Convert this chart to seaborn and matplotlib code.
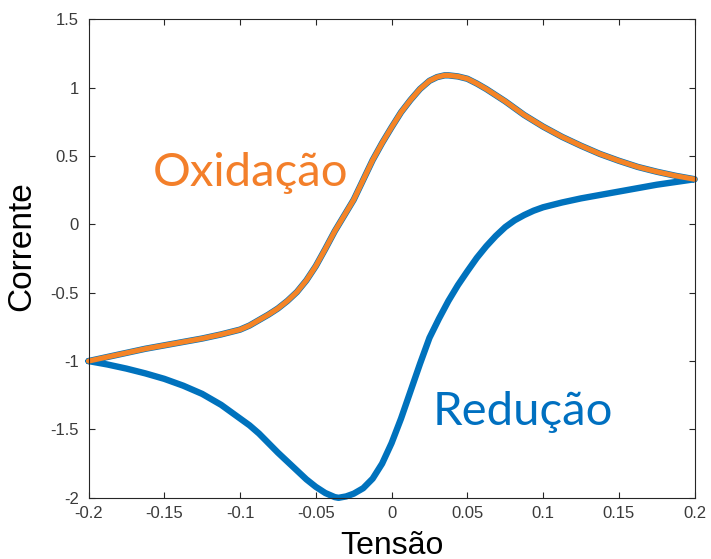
import matplotlib
matplotlib.use("Agg")
import matplotlib.pyplot as plt
import seaborn as sns
import pandas as pd

# ---- data ----
ox_x = [-0.2, -0.1875, -0.175, -0.1625, -0.15, -0.1375, -0.125, -0.1125, -0.1,
        -0.09375, -0.0875, -0.08125, -0.075, -0.06875, -0.0625, -0.05625, -0.05,
        -0.04375, -0.0375, -0.03125, -0.025, -0.01875, -0.0125, -0.00625, 0.0,
        0.00625, 0.0125, 0.01875, 0.025, 0.03, 0.035, 0.0375, 0.04375, 0.05,
        0.05625, 0.0625, 0.06875, 0.075, 0.08125, 0.0875, 0.1, 0.1125, 0.125,
        0.1375, 0.15, 0.1625, 0.175, 0.1875, 0.2]
ox_y = [-1.00, -0.97, -0.94, -0.91, -0.885, -0.86, -0.835, -0.805, -0.77,
        -0.74, -0.70, -0.66, -0.615, -0.56, -0.495, -0.41, -0.305,
        -0.18, -0.05, 0.065, 0.18, 0.325, 0.47, 0.595, 0.71,
        0.82, 0.91, 0.99, 1.05, 1.077, 1.09, 1.09, 1.082, 1.065,
        1.03, 0.99, 0.945, 0.90, 0.85, 0.80, 0.715, 0.64, 0.575,
        0.515, 0.465, 0.42, 0.385, 0.355, 0.33]

red_x = [0.2, 0.1875, 0.175, 0.1625, 0.15, 0.1375, 0.125, 0.1125, 0.1,
         0.09375, 0.0875, 0.08125, 0.075, 0.06875, 0.0625, 0.05625, 0.05,
         0.04375, 0.0375, 0.03125, 0.025, 0.01875, 0.0125, 0.00625, 0.0,
         -0.00625, -0.0125, -0.01875, -0.025, -0.03, -0.035, -0.0375, -0.04375,
         -0.05, -0.05625, -0.0625, -0.06875, -0.075, -0.08125, -0.0875, -0.09375,
         -0.1, -0.1125, -0.125, -0.1375, -0.15, -0.1625, -0.175, -0.1875, -0.2]
red_y = [0.33, 0.31, 0.29, 0.265, 0.24, 0.215, 0.19, 0.16, 0.125,
         0.10, 0.068, 0.03, -0.02, -0.085, -0.16, -0.245, -0.343,
         -0.445, -0.56, -0.69, -0.83, -1.02, -1.22, -1.42, -1.60,
         -1.75, -1.86, -1.93, -1.97, -1.99, -2.00, -1.995, -1.965,
         -1.92, -1.865, -1.80, -1.735, -1.67, -1.60, -1.53, -1.47,
         -1.42, -1.32, -1.24, -1.18, -1.13, -1.09, -1.055, -1.025, -1.00]

x_ticks = [-0.2, -0.15, -0.1, -0.05, 0, 0.05, 0.1, 0.15, 0.2]
x_tick_labels = ["-0.2", "-0.15", "-0.1", "-0.05", "0", "0.05", "0.1", "0.15", "0.2"]
y_ticks = [-2, -1.5, -1, -0.5, 0, 0.5, 1, 1.5]
y_tick_labels = ["-2", "-1.5", "-1", "-0.5", "0", "0.5", "1", "1.5"]

x_label = "Tensão"
y_label = "Corrente"
ox_text = "Oxidação"
red_text = "Redução"

# ---- styling ----
sns.set_style("ticks")
plt.rcParams["font.family"] = ["Liberation Sans", "DejaVu Sans"]

BLUE = "#0072BD"
ORANGE = "#F58426"
AXCOL = "#262626"

fig = plt.figure(figsize=(7.11, 5.59), dpi=100)
ax = fig.add_axes([0.1245, 0.1095, 0.8525, 0.856])

loop = pd.DataFrame({"x": ox_x + red_x, "y": ox_y + red_y})
upper = pd.DataFrame({"x": ox_x, "y": ox_y})

sns.lineplot(data=loop, x="x", y="y", sort=False, estimator=None, ax=ax,
             color=BLUE, linewidth=4.6, clip_on=False,
             solid_joinstyle="round", solid_capstyle="round")
sns.lineplot(data=upper, x="x", y="y", sort=False, estimator=None, ax=ax,
             color=ORANGE, linewidth=3.7, clip_on=False,
             solid_joinstyle="round", solid_capstyle="round")

ax.set_xlim(-0.2, 0.2)
ax.set_ylim(-2, 1.5)
ax.set_xticks(x_ticks)
ax.set_xticklabels(x_tick_labels)
ax.set_yticks(y_ticks)
ax.set_yticklabels(y_tick_labels)

for s in ax.spines.values():
    s.set_visible(True)
    s.set_color(AXCOL)
    s.set_linewidth(0.8)

ax.tick_params(axis="both", direction="in", length=4, width=0.8, color=AXCOL,
               labelsize=12, labelcolor="#3a3a3a", top=True, right=True)
ax.tick_params(axis="x", pad=6)
ax.tick_params(axis="y", pad=7)

ax.set_xlabel(x_label, fontsize=23, color="black")
ax.set_ylabel(y_label, fontsize=24, color="black")
ax.xaxis.set_label_coords(0.5, -0.069)
ax.yaxis.set_label_coords(-0.085, 0.525)

ax.text(-0.1578, 0.283, ox_text, color="#F37F2A", fontsize=34,
        family=["Lato", "DejaVu Sans"], ha="left", va="baseline")
ax.text(0.0268, -1.469, red_text, color="#0070C0", fontsize=34,
        family=["Lato", "DejaVu Sans"], ha="left", va="baseline")

fig.savefig("out.png", dpi=100)
